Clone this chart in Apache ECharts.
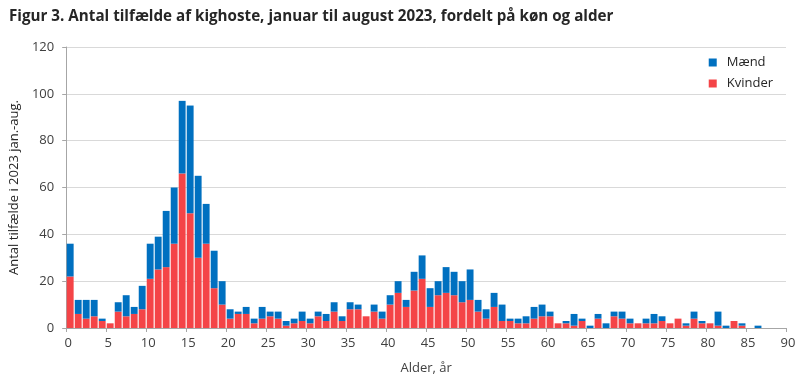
<!DOCTYPE html>
<html>
<head>
<meta charset="utf-8">
<script src="https://cdn.jsdelivr.net/npm/echarts@6/dist/echarts.min.js"></script>
<style>
html,body{margin:0;padding:0;background:#fff;}
#chart{width:800px;height:381px;}
</style>
</head>
<body>
<div id="chart"></div>
<script>
// Ages 0..89
var ages = [];
for (var i = 0; i < 90; i++) ages.push(String(i));

var kvinder = [22,6,4,5,3,2,7,5,6,8, 21,25,26,36,66,49,30,36,17,10,
               4,6,6,2,4,5,4,1,2,3, 2,5,3,7,3,8,8,5,7,4,
               10,15,9,16,21,9,14,15,14,11, 12,7,4,9,3,3,2,2,4,5,
               5,2,2,1,3,0,4,0,5,4, 2,2,2,2,3,2,4,1,4,2,
               2,1,0,3,1,0,0,0,0,0];
var maend = [14,6,8,7,1,0,4,9,3,10, 15,14,24,24,31,46,35,17,16,10,
             4,1,3,2,5,2,3,2,2,4, 2,2,3,4,2,3,2,0,3,3,
             4,5,3,8,10,8,6,11,10,9, 13,5,4,6,7,1,2,3,5,5,
             2,0,1,5,1,1,2,2,2,3, 2,0,2,4,2,0,0,1,3,1,
             0,6,1,0,1,0,1,0,0,0];

var titleText = 'Figur 3. Antal tilfælde af kighoste, januar til august 2023, fordelt på køn og alder';
var yName = 'Antal tilfælde i 2023 jan.-aug.';
var xName = 'Alder, år';

var font = 'Open Sans';
var chart = echarts.init(document.getElementById('chart'));
chart.setOption({
  animation: false,
  title: {
    text: titleText,
    left: 4, top: 4,
    textStyle: {fontFamily: 'Open Sans', fontWeight: 'bold', fontSize: 15.2, color: '#262626'}
  },
  legend: {
    data: ['Mænd', 'Kvinder'],
    orient: 'vertical',
    right: 22, top: 51,
    icon: 'rect', itemWidth: 8, itemHeight: 8, itemGap: 8,
    textStyle: {fontFamily: font, fontSize: 13, color: '#262626', padding: [0,0,0,5]}
  },
  grid: {left: 61, right: 14, top: 47, bottom: 53, containLabel: false},
  xAxis: [
    {
      type: 'category', data: ages, position: 'bottom',
      axisLine: {lineStyle: {color: '#a6a6a6', width: 1}},
      axisTick: {show: false}, axisLabel: {show: false}, splitLine: {show: false}
    },
    {
      type: 'value', min: 0, max: 90, interval: 5, position: 'bottom',
      axisLine: {show: false},
      axisTick: {show: true, length: 4, lineStyle: {color: '#a6a6a6'}},
      axisLabel: {margin: 9, padding: [0,0,0,4], fontFamily: font, fontSize: 13, color: '#404040'},
      splitLine: {show: false},
      name: xName, nameLocation: 'middle', nameGap: 34,
      nameTextStyle: {fontFamily: font, fontSize: 13, color: '#404040'}
    }
  ],
  yAxis: {
    type: 'value', min: 0, max: 120, interval: 20,
    axisLine: {show: true, lineStyle: {color: '#a6a6a6'}},
    axisTick: {show: true, length: 4, lineStyle: {color: '#a6a6a6'}},
    axisLabel: {margin: 12, fontFamily: font, fontSize: 13, color: '#404040'},
    splitLine: {lineStyle: {color: '#d9d9d9'}},
    name: yName, nameLocation: 'middle', nameGap: 42,
    nameTextStyle: {fontFamily: font, fontSize: 13, color: '#262626'}
  },
  series: [
    {
      name: 'Kvinder', type: 'bar', stack: 'total', xAxisIndex: 0,
      data: kvinder, barCategoryGap: '14%',
      itemStyle: {color: '#F44447'}
    },
    {
      name: 'Mænd', type: 'bar', stack: 'total', xAxisIndex: 0,
      data: maend, barCategoryGap: '14%',
      itemStyle: {color: '#0070C0'}
    }
  ]
});
</script>
</body>
</html>
